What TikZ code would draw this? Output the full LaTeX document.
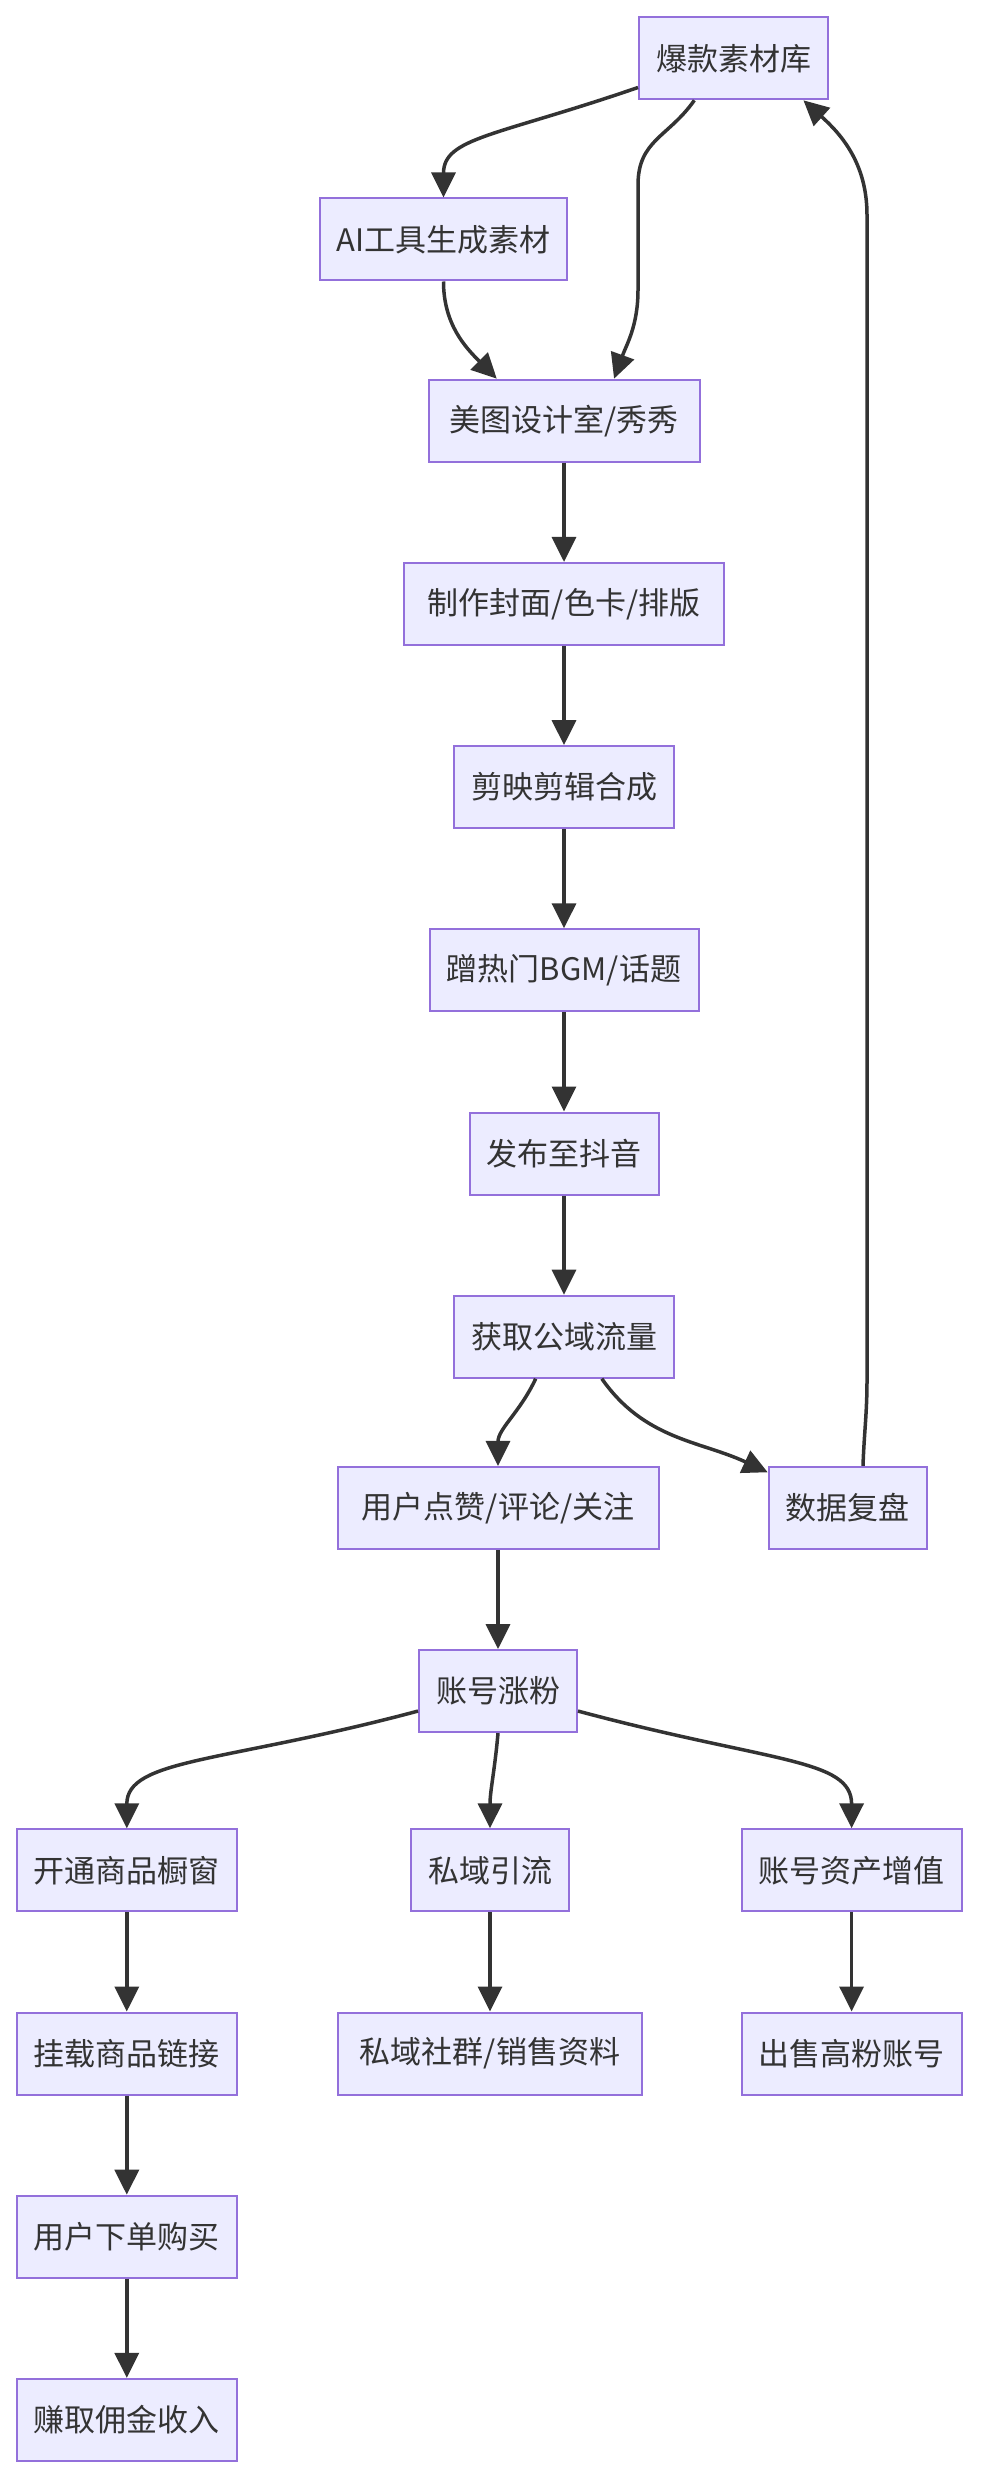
\documentclass[tikz,border=0pt]{standalone}
\usepackage{fontspec}
\setmainfont{Noto Sans CJK SC}
\usepackage{tikz}
\usetikzlibrary{arrows.meta, positioning}
\definecolor{boxfill}{HTML}{ECECFF}
\definecolor{boxline}{HTML}{9370DB}
\definecolor{edgegray}{HTML}{333333}

\begin{document}
\begin{tikzpicture}[
    x=1pt, y=1pt,
    box/.style={rectangle, draw=boxline, fill=boxfill, line width=2pt,
                minimum height=82pt, inner xsep=17pt, inner ysep=0pt,
                text=edgegray, font=\fontsize{31pt}{36pt}\selectfont},
    arrow/.style={-{Triangle[length=25pt, width=24pt]}, line width=3.5pt, draw=edgegray},
    node distance=99.2pt
]
\useasboundingbox (0,0) rectangle (980,-2472);

% content production
\node[box] (lib)   at (733.5,-58.3)  {爆款素材库};
\node[box] (ai)    at (443.5,-239.5) {AI工具生成素材};
\node[box, minimum width=271pt] (meitu) at (564,-420.7) {美图设计室/秀秀};
\node[box, minimum width=320pt, below=of meitu] (cover) {制作封面/色卡/排版};
\node[box, below=of cover]   (edit)    {剪映剪辑合成};
\node[box, minimum width=269pt, below=of edit] (bgm) {蹭热门BGM/话题};
\node[box, below=of bgm]     (post)    {发布至抖音};
\node[box, below=of post]    (traffic) {获取公域流量};

% feedback and growth
\node[box, minimum width=321pt] (engage) at (498,-1507.9) {用户点赞/评论/关注};
\node[box] (review) at (847.7,-1507.9) {数据复盘};
\node[box, below=of engage] (fans) {账号涨粉};

% monetisation
\node[box] (shop)  at (126.8,-1870.3) {开通商品橱窗};
\node[box] (priv)  at (490,-1870.3)   {私域引流};
\node[box] (asset) at (851.6,-1870.3) {账号资产增值};
\node[box, below=of shop]  (link)   {挂载商品链接};
\node[box, below=of link]  (order)  {用户下单购买};
\node[box, below=of order] (income) {赚取佣金收入};
\node[box, minimum width=304pt, below=of priv] (group) {私域社群/销售资料};
\node[box, below=of asset] (sell)   {出售高粉账号};

\coordinate (up1) at (638,-185);
\coordinate (lo1) at (638,-290);
\coordinate (up2) at (867,-215);
\coordinate (lo2) at (867,-1380);

\draw[arrow] (lib.197) .. controls +(199:150) and +(0,60) .. (ai.north);
\draw[arrow] (lib.227) .. controls +(-125:45) and +(0,45) .. (up1) -- (lo1) to[out=-90, in=70] (meitu.40);
\draw[arrow] (ai.south) to[out=-90, in=135] (meitu.148);
\draw[arrow] (meitu) -- (cover);
\draw[arrow] (cover) -- (edit);
\draw[arrow] (edit) -- (bgm);
\draw[arrow] (bgm) -- (post);
\draw[arrow] (post) -- (traffic);
\draw[arrow] (traffic.236) to[out=-115, in=90] (engage.north);
\draw[arrow] (traffic.-48) to[out=-55, in=155] (review.156);
\draw[arrow] (review.70) to[out=88, in=-90] (lo2) -- (up2) to[out=90, in=-42] (lib.-31);
\draw[arrow] (engage) -- (fans);

\draw[arrow] (fans.194) .. controls +(195:200) and +(0,70) .. (shop.north);
\draw[arrow] (fans.south) to[out=-95, in=90] (priv.north);
\draw[arrow] (fans.-14) .. controls +(-15:200) and +(0,70) .. (asset.north);
\draw[arrow] (shop) -- (link);
\draw[arrow] (link) -- (order);
\draw[arrow] (order) -- (income);
\draw[arrow] (priv) -- (group);
\draw[arrow] (asset) -- (sell);
\end{tikzpicture}
\end{document}
